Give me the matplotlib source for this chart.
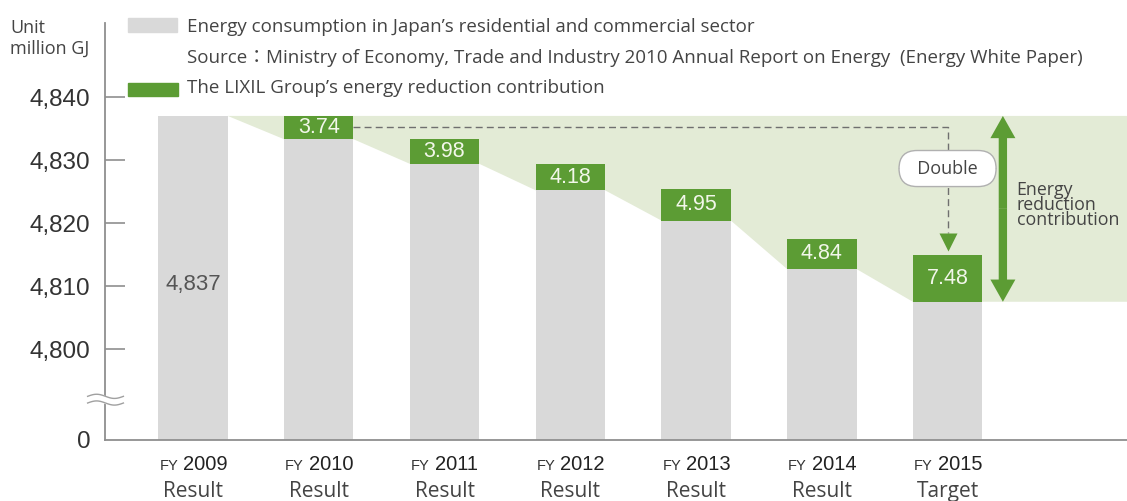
import numpy as np
import matplotlib.pyplot as plt
from matplotlib.patches import Polygon, Rectangle, FancyArrowPatch
from matplotlib.transforms import blended_transform_factory

# Energy consumption (million GJ) and LIXIL reduction contribution per fiscal year
years = ["2009", "2010", "2011", "2012", "2013", "2014", "2015"]
status = ["Result", "Result", "Result", "Result", "Result", "Result", "Target"]
consumption = [4837, 4833.3, 4829.4, 4825.2, 4820.4, 4812.7, 4807.5]
reduction = [0, 3.74, 3.98, 4.18, 4.95, 4.84, 7.48]
yticks = [4800, 4810, 4820, 4830, 4840]

GRAY = "#d9d9d9"
GREEN = "#5c9c34"
SHADE = "#e3ebd6"
AXIS = "#8f8f8f"

NUM_FONT = "Liberation Sans"
TXT_FONT = ["Open Sans", "Noto Sans CJK JP", "DejaVu Sans"]

# the axis is broken between 0 and 4,800; FLOOR is where "0" sits
FLOOR = 4785.56

fig = plt.figure(figsize=(11.27, 5.01), dpi=100)
ax = fig.add_axes([105 / 1127, 61 / 501, 1022 / 1127, 417 / 501])
ax.set_xlim(-0.70, 7.427)
ax.set_ylim(FLOOR, 4851.75)

x = np.arange(len(years))
w = 0.552
cons = np.array(consumption)
red = np.array(reduction)

# shaded area between the 2009 level and the falling consumption
top = cons[0]
xr = ax.get_xlim()[1]
pts = [(x[0] + w / 2, top), (xr, top), (xr, cons[-1])]
for i in range(len(x) - 1, 0, -1):
    pts.append((x[i] + w / 2, cons[i]))
    pts.append((x[i] - w / 2, cons[i]))
ax.add_patch(Polygon(pts, closed=True, facecolor=SHADE, edgecolor="none", zorder=1))

# gray consumption bars from the (broken) zero line
ax.bar(x, cons - FLOOR, bottom=FLOOR, width=w, color=GRAY, zorder=2)
# green reduction boxes stacked on top
ax.bar(x[1:], red[1:], bottom=cons[1:], width=w, color=GREEN, zorder=3)
for i in range(1, len(x)):
    ax.text(x[i], cons[i] + red[i] / 2, f"{red[i]:.2f}", ha="center", va="center",
            fontsize=15.5, color="#f2f7ea", family=NUM_FONT, zorder=4)

ax.text(x[0], 4810.2, f"{consumption[0]:,}", ha="center", va="center",
        fontsize=16, color="#555555", family=NUM_FONT, zorder=4)

# dashed guide from FY2010 to FY2015 ("Double")
y_mid = cons[1] + red[1] / 2
tip = cons[-1] + red[-1] + 0.6
ax.plot([x[1] + w / 2, x[-1], x[-1]], [y_mid, y_mid, tip + 2.8],
        color="#6f6f6f", lw=1, dashes=(5, 3), zorder=3)
ax.plot(x[-1], tip + 1.43, marker="v", ms=13, color=GREEN, mec="none", zorder=4)
ax.text(x[-1], 4828.65, "  Double  ", ha="center", va="center", fontsize=13,
        color="#444444", family=TXT_FONT, zorder=5,
        bbox=dict(boxstyle="round,pad=0.5,rounding_size=1.0", fc="white",
                  ec="#b0b0b0", lw=1))

# double-headed arrow spanning the total reduction
xa = 6.44
ymid = (top + cons[-1]) / 2
for y_end in (top, cons[-1]):
    ax.add_patch(FancyArrowPatch((xa, ymid), (xa, y_end), mutation_scale=10,
                                 arrowstyle="simple,head_length=1.6,head_width=1.8,tail_width=0.6",
                                 color=GREEN, lw=0, zorder=4, shrinkA=0, shrinkB=0))
ax.text(6.55, 4822.9, "Energy\nreduction\ncontribution", ha="left", va="center",
        fontsize=12.8, color="#444444", family=TXT_FONT, linespacing=0.8, zorder=5,
        clip_on=False)

# axes styling
for s in ("top", "right"):
    ax.spines[s].set_visible(False)
for s in ("left", "bottom"):
    ax.spines[s].set_color(AXIS)
    ax.spines[s].set_linewidth(1.3)
ax.set_xticks([])
ax.set_yticks([FLOOR] + yticks)
ax.set_yticklabels(["0"] + [f"{v:,}" for v in yticks], family=NUM_FONT,
                   fontsize=17.5, color="#333333")
ax.tick_params(axis="y", direction="in", length=14.5, width=1.2, color=AXIS, pad=10.5)
ax.yaxis.get_major_ticks()[0].tick1line.set_visible(False)

# axis break mark
t = np.linspace(0, 1, 40)
bx = -0.017 + 0.035 * t
by = 0.1007 + 0.005 * np.sin(2 * np.pi * t)
ax.fill_between(bx, by - 0.012, by + 0.004, color="white", transform=ax.transAxes,
                clip_on=False, zorder=6)
for off in (-0.012, 0.004):
    ax.plot(bx, by + off, color="#a0a0a0", lw=1, transform=ax.transAxes,
            clip_on=False, zorder=7)

# category labels under the axis
trans = blended_transform_factory(ax.transData, ax.transAxes)
for i, (yr, st) in enumerate(zip(years, status)):
    ax.annotate(yr, (x[i], -0.072), xycoords=trans, xytext=(-10, 0),
                textcoords="offset pixels", ha="left", va="baseline",
                fontsize=14.5, color="#222222", family=NUM_FONT)
    ax.annotate("FY", (x[i], -0.072), xycoords=trans, xytext=(-15, 0),
                textcoords="offset pixels", ha="right", va="baseline",
                fontsize=10.5, color="#333333", family=NUM_FONT)
    ax.text(x[i], -0.137, st, transform=trans, ha="center", va="baseline",
            fontsize=15, color="#444444", family=TXT_FONT)

# unit and legend
fig.text(10 / 1127, 1 - 28 / 501, "Unit", fontsize=13, color="#444444",
         family=TXT_FONT, va="center")
fig.text(10 / 1127, 1 - 49 / 501, "million GJ", fontsize=13, color="#444444",
         family=TXT_FONT, va="center")
fig.add_artist(Rectangle((128 / 1127, 1 - 32 / 501), 49 / 1127, 14 / 501,
                         transform=fig.transFigure, color=GRAY))
fig.add_artist(Rectangle((128 / 1127, 1 - 96 / 501), 50 / 1127, 13 / 501,
                         transform=fig.transFigure, color=GREEN))
legend_rows = [
    "Energy consumption in Japan\u2019s residential and commercial sector",
    "Source\uff1aMinistry of Economy, Trade and Industry 2010 Annual Report on Energy  (Energy White Paper)",
    "The LIXIL Group\u2019s energy reduction contribution",
]
for row, yc in zip(legend_rows, (27, 58, 88)):
    fig.text(187 / 1127, 1 - yc / 501, row, fontsize=13.5, color="#444444",
             family=TXT_FONT, va="center")

fig.savefig("out.png", dpi=100)
